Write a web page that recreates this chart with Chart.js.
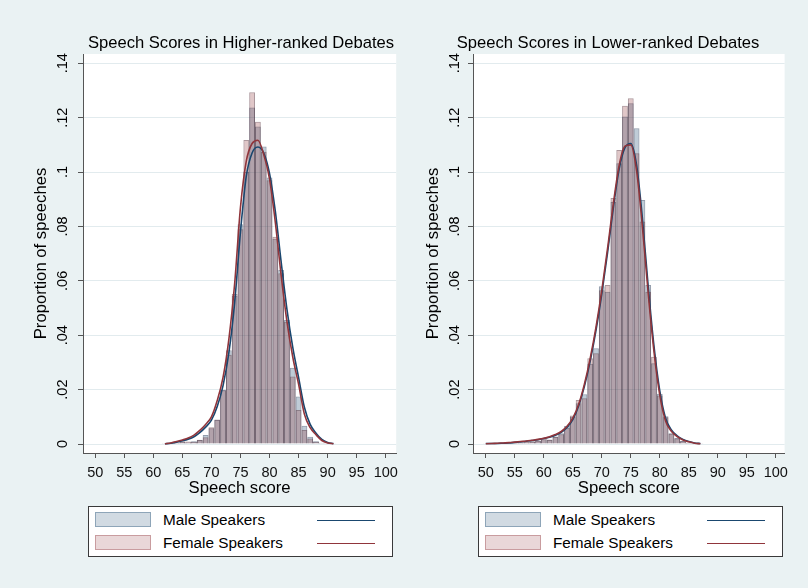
<!DOCTYPE html>
<html>
<head>
<meta charset="utf-8">
<script src="https://cdn.jsdelivr.net/npm/chart.js@4.4.1/dist/chart.umd.min.js"></script>
<style>
  html, body { margin: 0; padding: 0; }
  body {
    width: 808px; height: 588px; position: relative; overflow: hidden;
    background: #eaf2f3; color: #000;
    font-family: "Liberation Sans", Arial, sans-serif;
  }
  canvas.panel { position: absolute; top: 0; }
  .title { position: absolute; top: 33px; font-size: 16.6px; line-height: 20px; white-space: nowrap; transform: translateX(-50%); }
  .legend { position: absolute; top: 506px; width: 303px; height: 49px; background: #fff; border: 1px solid #3a3a3a; }
  .sw { position: absolute; left: 6px; width: 54px; height: 13px; border: 1px solid; }
  .lbl { position: absolute; left: 74px; font-size: 15.3px; line-height: 18px; white-space: nowrap; }
  .ln { position: absolute; left: 228px; width: 58px; height: 0; border-top: 1.6px solid; }
</style>
</head>
<body>
<canvas id="hi" class="panel" width="404" height="500" style="left:0"></canvas>
<canvas id="lo" class="panel" width="404" height="500" style="left:390px"></canvas>

<div class="title" style="left:241px">Speech Scores in Higher-ranked Debates</div>
<div class="title" style="left:608px">Speech Scores in Lower-ranked Debates</div>

<div class="legend" style="left:88px">
  <div class="sw male-sw" style="top:5px"></div><div class="lbl" style="top:4px">Male Speakers</div><div class="ln male-ln" style="top:13px"></div>
  <div class="sw female-sw" style="top:28px"></div><div class="lbl" style="top:27px">Female Speakers</div><div class="ln female-ln" style="top:36px"></div>
</div>
<div class="legend" style="left:478px">
  <div class="sw male-sw" style="top:5px"></div><div class="lbl" style="top:4px">Male Speakers</div><div class="ln male-ln" style="top:13px"></div>
  <div class="sw female-sw" style="top:28px"></div><div class="lbl" style="top:27px">Female Speakers</div><div class="ln female-ln" style="top:36px"></div>
</div>

<script>
// Axis ticks
const xTicks = [50, 55, 60, 65, 70, 75, 80, 85, 90, 95, 100];
const yTicks = [0, 0.02, 0.04, 0.06, 0.08, 0.10, 0.12, 0.14];
const yTickLabels = ['0', '.02', '.04', '.06', '.08', '.1', '.12', '.14'];

// Higher-ranked debates: histogram (bin centres, proportion per 1-point bin)
const hiBins = [62, 63, 64, 65, 66, 67, 68, 69, 70, 71, 72, 73, 74, 75, 76, 77, 78, 79, 80, 81, 82, 83, 84, 85, 86, 87, 88, 89, 90, 91];
const hiMale = [0.0003, 0.0002, 0.0005, 0.0008, 0.0006, 0.0010, 0.0016, 0.0033, 0.0058, 0.0088, 0.0200, 0.0345, 0.0545, 0.0808, 0.1000, 0.1237, 0.1167, 0.1094, 0.0980, 0.0755, 0.0640, 0.0456, 0.0280, 0.0175, 0.0067, 0.0027, 0.0010, 0.0005, 0.0003, 0.0001];
const hiFemale = [0.0001, 0.0003, 0.0006, 0.0010, 0.0009, 0.0008, 0.0015, 0.0025, 0.0062, 0.0090, 0.0198, 0.0328, 0.0552, 0.0790, 0.1118, 0.1293, 0.1185, 0.1075, 0.0970, 0.0762, 0.0628, 0.0450, 0.0248, 0.0125, 0.0052, 0.0020, 0.0008, 0.0003, 0.0001, 0];

// Higher-ranked debates: kernel density curves
const hiKdeX = [62, 63, 64, 65, 66, 67, 68, 69, 70, 71, 72, 73, 74, 75, 76, 77, 78, 79, 80, 81, 82, 83, 84, 85, 86, 87, 88, 89, 90, 91];
const hiMaleKde = [0.0001, 0.0003, 0.0007, 0.0012, 0.0018, 0.0027, 0.0042, 0.0062, 0.0088, 0.0138, 0.0215, 0.0335, 0.0520, 0.0780, 0.0985, 0.1070, 0.1092, 0.1070, 0.0995, 0.0855, 0.0670, 0.0495, 0.0355, 0.0245, 0.0135, 0.0072, 0.0040, 0.0017, 0.0006, 0.0002];
const hiFemaleKde = [0.0001, 0.0004, 0.0009, 0.0015, 0.0022, 0.0033, 0.0050, 0.0072, 0.0100, 0.0160, 0.0245, 0.0385, 0.0590, 0.0870, 0.1040, 0.1105, 0.1117, 0.1065, 0.0975, 0.0815, 0.0620, 0.0450, 0.0320, 0.0220, 0.0110, 0.0060, 0.0034, 0.0013, 0.0004, 0.0001];

// Lower-ranked debates: histogram
const loBins = [50, 51, 52, 53, 54, 55, 56, 57, 58, 59, 60, 61, 62, 63, 64, 65, 66, 67, 68, 69, 70, 71, 72, 73, 74, 75, 76, 77, 78, 79, 80, 81, 82, 83, 84, 85, 86, 87];
const loMale = [0.0002, 0.0001, 0.0002, 0.0003, 0.0002, 0.0005, 0.0004, 0.0006, 0.0008, 0.0012, 0.0018, 0.0017, 0.0028, 0.0040, 0.0066, 0.0100, 0.0150, 0.0183, 0.0295, 0.0352, 0.0580, 0.0560, 0.0890, 0.1032, 0.1204, 0.1253, 0.1161, 0.0897, 0.0585, 0.0297, 0.0185, 0.0102, 0.0040, 0.0022, 0.0011, 0.0005, 0.0002, 0.0001];
const loFemale = [0.0001, 0.0002, 0.0001, 0.0002, 0.0004, 0.0004, 0.0006, 0.0007, 0.0010, 0.0013, 0.0022, 0.0015, 0.0026, 0.0036, 0.0060, 0.0105, 0.0162, 0.0168, 0.0315, 0.0334, 0.0565, 0.0585, 0.0905, 0.1081, 0.1244, 0.1271, 0.1069, 0.0818, 0.0560, 0.0321, 0.0178, 0.0098, 0.0038, 0.0020, 0.0010, 0.0004, 0.0002, 0.0001];

// Lower-ranked debates: kernel density curves
const loKdeX = [50, 51, 52, 53, 54, 55, 56, 57, 58, 59, 60, 61, 62, 63, 64, 65, 66, 67, 68, 69, 70, 71, 72, 73, 74, 75, 76, 77, 78, 79, 80, 81, 82, 83, 84, 85, 86, 87];
const loMaleKde = [0.0002, 0.0002, 0.0002, 0.0003, 0.0004, 0.0006, 0.0008, 0.0010, 0.0013, 0.0016, 0.0020, 0.0025, 0.0032, 0.0043, 0.0061, 0.0090, 0.0140, 0.0212, 0.0305, 0.0418, 0.0552, 0.0705, 0.0870, 0.1012, 0.1090, 0.1105, 0.1025, 0.0830, 0.0580, 0.0360, 0.0195, 0.0095, 0.0052, 0.0030, 0.0017, 0.0009, 0.0004, 0.0002];
const loFemaleKde = [0.0001, 0.0002, 0.0003, 0.0004, 0.0005, 0.0007, 0.0009, 0.0011, 0.0014, 0.0017, 0.0021, 0.0027, 0.0035, 0.0046, 0.0065, 0.0095, 0.0145, 0.0220, 0.0315, 0.0430, 0.0565, 0.0720, 0.0885, 0.1025, 0.1095, 0.1100, 0.1005, 0.0800, 0.0555, 0.0340, 0.0180, 0.0085, 0.0047, 0.0027, 0.0015, 0.0008, 0.0003, 0.0001];

// Colours
const MALE_LINE = '#1a476f';
const FEMALE_LINE = '#90353b';
const MALE_FILL = 'rgba(26,71,111,0.28)';
const MALE_EDGE = 'rgba(40,60,90,0.5)';
const FEMALE_FILL = 'rgba(144,53,59,0.28)';
const FEMALE_EDGE = 'rgba(90,50,60,0.5)';
const MALE_KEY_FILL = 'rgba(26,71,111,0.20)';
const MALE_KEY_EDGE = 'rgba(26,71,111,0.36)';
const FEMALE_KEY_FILL = 'rgba(144,53,59,0.20)';
const FEMALE_KEY_EDGE = 'rgba(144,53,59,0.36)';
const AXIS = '#555555';
const GRID = '#e2ebee';
const FONT = '"Liberation Sans", Arial, sans-serif';

document.querySelectorAll('.male-sw').forEach(e => { e.style.background = MALE_KEY_FILL; e.style.borderColor = MALE_KEY_EDGE; });
document.querySelectorAll('.female-sw').forEach(e => { e.style.background = FEMALE_KEY_FILL; e.style.borderColor = FEMALE_KEY_EDGE; });
document.querySelectorAll('.male-ln').forEach(e => { e.style.borderTopColor = MALE_LINE; });
document.querySelectorAll('.female-ln').forEach(e => { e.style.borderTopColor = FEMALE_LINE; });

Chart.defaults.font.family = FONT;

const pts = (xs, ys) => xs.map((x, i) => ({ x, y: ys[i] }));

// White plot region behind the grid and marks
const plotBackground = {
  id: 'plotBackground',
  beforeDraw(chart) {
    const { ctx, chartArea: a } = chart;
    ctx.save();
    ctx.fillStyle = '#ffffff';
    ctx.fillRect(a.left, a.top, a.right - a.left, a.bottom - a.top);
    ctx.restore();
  }
};

// Vertical y tick labels, read upwards
const verticalYLabels = {
  id: 'verticalYLabels',
  afterDraw(chart, args, opts) {
    const { ctx } = chart;
    const y = chart.scales.y;
    ctx.save();
    ctx.fillStyle = '#000';
    ctx.font = '14.5px ' + FONT;
    ctx.textAlign = 'center';
    ctx.textBaseline = 'middle';
    yTicks.forEach((v, i) => {
      const py = y.getPixelForValue(v);
      ctx.save();
      ctx.translate(y.right + opts.offset, py);
      ctx.rotate(-Math.PI / 2);
      ctx.fillText(yTickLabels[i], 0, 0);
      ctx.restore();
    });
    ctx.restore();
  }
};

function panel(id, p) {
  return new Chart(document.getElementById(id), {
    type: 'bar',
    data: {
      datasets: [
        { type: 'line', label: 'Female Speakers', data: pts(p.kdeX, p.femaleKde), borderColor: FEMALE_LINE, borderWidth: 1.6, pointRadius: 0, cubicInterpolationMode: 'monotone', fill: false, order: 0 },
        { type: 'line', label: 'Male Speakers', data: pts(p.kdeX, p.maleKde), borderColor: MALE_LINE, borderWidth: 1.6, pointRadius: 0, cubicInterpolationMode: 'monotone', fill: false, order: 1 },
        { label: 'Female Speakers', data: pts(p.bins, p.female), backgroundColor: FEMALE_FILL, borderColor: FEMALE_EDGE, borderWidth: 1, order: 2 },
        { label: 'Male Speakers', data: pts(p.bins, p.male), backgroundColor: MALE_FILL, borderColor: MALE_EDGE, borderWidth: 1, order: 3 }
      ]
    },
    options: {
      responsive: false,
      animation: false,
      events: [],
      layout: { padding: { left: 0, right: 5, top: 54, bottom: 0 } },
      datasets: { bar: { grouped: false, barPercentage: 1, categoryPercentage: 1, inflateAmount: 0, borderSkipped: 'start' } },
      plugins: { legend: { display: false }, tooltip: { enabled: false }, title: { display: false }, verticalYLabels: { offset: p.yLabelOffset } },
      scales: {
        x: {
          type: 'linear', min: p.xMin, max: p.xMax, offset: false,
          afterBuildTicks: s => { s.ticks = xTicks.map(v => ({ value: v })); },
          afterFit: s => { s.height = 47; },
          grid: { drawOnChartArea: false, drawTicks: true, tickLength: 5, tickColor: AXIS, offset: false },
          border: { display: true, color: AXIS, width: 1 },
          ticks: { color: '#111', font: { size: 14.5 }, padding: 6, maxRotation: 0, minRotation: 0, autoSkip: false, callback: v => String(v) },
          title: { display: true, text: 'Speech score', color: '#000', font: { size: 16.7 }, padding: { top: 0, bottom: 2 } }
        },
        y: {
          type: 'linear', min: -0.0033, max: 0.1434,
          afterBuildTicks: s => { s.ticks = yTicks.map(v => ({ value: v })); },
          afterFit: s => { s.width = 83; },
          grid: { color: GRID, lineWidth: 1, drawTicks: true, tickLength: 5, tickColor: AXIS },
          border: { display: true, color: AXIS, width: 1 },
          ticks: { display: false },
          title: { display: true, text: 'Proportion of speeches', color: '#000', font: { size: 16.7 }, padding: { top: p.yTitlePad, bottom: 0 } }
        }
      }
    },
    plugins: [plotBackground, verticalYLabels]
  });
}

panel('hi', {
  bins: hiBins, male: hiMale, female: hiFemale,
  kdeX: hiKdeX, maleKde: hiMaleKde, femaleKde: hiFemaleKde,
  xMin: 47.9, xMax: 101.8, yLabelOffset: -20, yTitlePad: 31
});
panel('lo', {
  bins: loBins, male: loMale, female: loFemale,
  kdeX: loKdeX, maleKde: loMaleKde, femaleKde: loFemaleKde,
  xMin: 47.79, xMax: 101.53, yLabelOffset: -18, yTitlePad: 33
});
</script>
</body>
</html>
